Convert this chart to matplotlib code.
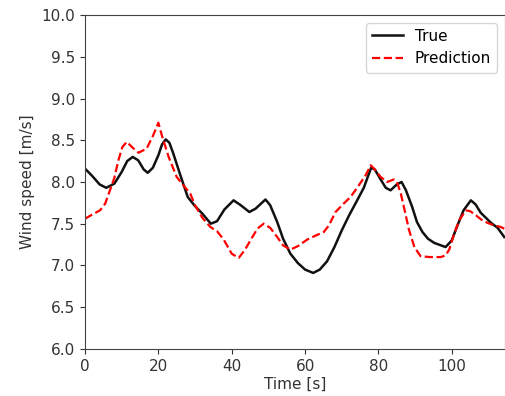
import matplotlib
matplotlib.use("Agg")
import matplotlib.pyplot as plt

# values (including the turning points)
true_t = [0, 2, 4, 5.8, 8, 10, 11.5, 13, 14.5, 16, 17.1, 18.5, 20, 21, 22, 23, 24,
          26, 28, 30, 32, 34.3, 36, 38, 40.5, 42.5, 44.8, 46.5, 49.2, 50.5, 52.4,
          54, 56, 58, 60, 62.2, 64, 66, 68, 70, 72, 74.2, 76, 78, 79, 80.6, 82,
          83.3, 85, 86.3, 87.5, 89.2, 90.5, 92, 93.5, 95.2, 98.3, 100, 101.1,
          103.2, 105.2, 106.5, 107.9, 110.7, 112.5, 114.3]
true_speed = [8.16, 8.07, 7.97, 7.93, 7.98, 8.12, 8.25, 8.30, 8.26, 8.15, 8.11, 8.17,
              8.32, 8.45, 8.51, 8.47, 8.35, 8.08, 7.82, 7.71, 7.62, 7.50, 7.53, 7.67,
              7.78, 7.72, 7.64, 7.68, 7.79, 7.72, 7.52, 7.32, 7.14, 7.03, 6.95, 6.91,
              6.95, 7.05, 7.22, 7.42, 7.60, 7.78, 7.93, 8.17, 8.15, 8.03, 7.93, 7.90,
              7.97, 8.00, 7.90, 7.70, 7.52, 7.40, 7.32, 7.27, 7.22, 7.30, 7.43, 7.66,
              7.78, 7.73, 7.63, 7.51, 7.45, 7.34]

pred_t = [0, 2, 4.1, 5.5, 6.8, 8, 9.1, 10.2, 11.4, 13, 14.6, 16.8, 18.5, 20, 21,
          22.8, 25, 27, 28.7, 30, 32, 34.2, 36, 37.8, 40, 41.9, 43.5, 45.5, 47,
          48.7, 50.5, 52.4, 54, 56, 58, 60.6, 63, 65.1, 66.5, 68.3, 70.5, 72.4,
          74.5, 76.5, 77.9, 79, 80.6, 82.4, 84.2, 85.2, 86.1, 87.2, 88.3, 89.8,
          91.5, 94, 97, 98.3, 99.3, 100.5, 102, 103.8, 105, 106.6, 108, 109.7,
          111.5, 113.4, 114.3]
pred_speed = [7.56, 7.61, 7.66, 7.74, 7.90, 8.05, 8.26, 8.42, 8.48, 8.41, 8.35, 8.40,
              8.55, 8.71, 8.55, 8.30, 8.06, 7.95, 7.86, 7.72, 7.57, 7.46, 7.41, 7.31,
              7.14, 7.09, 7.18, 7.33, 7.44, 7.50, 7.45, 7.34, 7.24, 7.19, 7.23, 7.31,
              7.36, 7.40, 7.48, 7.64, 7.74, 7.82, 7.95, 8.08, 8.20, 8.15, 8.06, 8.00,
              8.03, 7.98, 7.86, 7.65, 7.43, 7.22, 7.11, 7.10, 7.10, 7.12, 7.19, 7.36,
              7.54, 7.66, 7.65, 7.60, 7.55, 7.51, 7.48, 7.46, 7.44]

yticks = [6.0, 6.5, 7.0, 7.5, 8.0, 8.5, 9.0, 9.5, 10.0]
xticks = [0, 20, 40, 60, 80, 100]

fig = plt.figure(figsize=(5.06, 3.96), dpi=100)
ax = fig.add_axes([0.168, 0.119, 0.830, 0.843])

ax.plot(true_t, true_speed, color='#111111', linewidth=1.8, label='True')
ax.plot(pred_t, pred_speed, color='red', linestyle='--', linewidth=1.6, label='Prediction')

ax.set_xlim(0, 114.5)
ax.set_ylim(6.0, 10.0)
ax.set_xticks(xticks)
ax.set_yticks(yticks)
ax.set_yticklabels([f'{v:.1f}' for v in yticks])
ax.tick_params(labelsize=11, colors='#333333')
for s in ax.spines.values():
    s.set_color('#444444')

ax.set_xlabel('Time [s]', fontsize=11, color='#333333', labelpad=2)
ax.set_ylabel('Wind speed [m/s]', fontsize=11, color='#333333', labelpad=5)
ax.legend(loc='upper right', fontsize=11)

fig.savefig('out.png', dpi=100)
